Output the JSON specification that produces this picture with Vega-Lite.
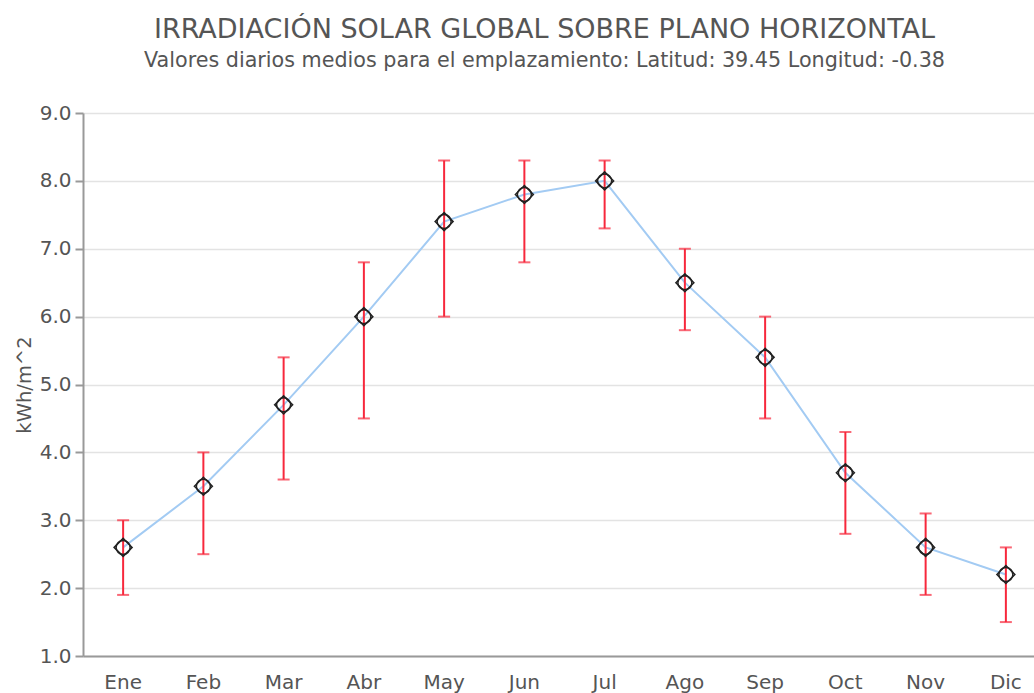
{
  "$schema": "https://vega.github.io/schema/vega-lite/v6.json",
  "autosize": "none",
  "padding": {"left": 83, "top": 113, "right": 0, "bottom": 37},
  "width": 963,
  "height": 543,
  "background": "white",
  "title": {
    "text": "IRRADIACIÓN SOLAR GLOBAL SOBRE PLANO HORIZONTAL",
    "subtitle": "Valores diarios medios para el emplazamiento: Latitud: 39.45 Longitud: -0.38",
    "anchor": "middle",
    "dx": -20,
    "offset": 31,
    "font": "DejaVu Sans",
    "fontSize": 27,
    "fontWeight": "normal",
    "color": "#555555",
    "subtitleFont": "DejaVu Sans",
    "subtitleFontSize": 20.7,
    "subtitleColor": "#555555",
    "subtitlePadding": 7
  },
  "config": {
    "view": {"stroke": null},
    "axis": {"labelFont": "DejaVu Sans", "titleFont": "DejaVu Sans"}
  },
  "data": {
    "values": [
      {"mes": "Ene", "valor": 2.6, "min": 1.9, "max": 3.0},
      {"mes": "Feb", "valor": 3.5, "min": 2.5, "max": 4.0},
      {"mes": "Mar", "valor": 4.7, "min": 3.6, "max": 5.4},
      {"mes": "Abr", "valor": 6.0, "min": 4.5, "max": 6.8},
      {"mes": "May", "valor": 7.4, "min": 6.0, "max": 8.3},
      {"mes": "Jun", "valor": 7.8, "min": 6.8, "max": 8.3},
      {"mes": "Jul", "valor": 8.0, "min": 7.3, "max": 8.3},
      {"mes": "Ago", "valor": 6.5, "min": 5.8, "max": 7.0},
      {"mes": "Sep", "valor": 5.4, "min": 4.5, "max": 6.0},
      {"mes": "Oct", "valor": 3.7, "min": 2.8, "max": 4.3},
      {"mes": "Nov", "valor": 2.6, "min": 1.9, "max": 3.1},
      {"mes": "Dic", "valor": 2.2, "min": 1.5, "max": 2.6}
    ]
  },
  "encoding": {
    "x": {
      "field": "mes",
      "type": "nominal",
      "sort": null,
      "scale": {"type": "band", "paddingInner": 0, "paddingOuter": 0},
      "axis": {
        "title": null,
        "labelAngle": 0,
        "ticks": false,
        "labelPadding": 16,
        "labelFontSize": 20,
        "labelColor": "#555555",
        "domainColor": "#999999",
        "domainWidth": 2,
        "grid": false
      }
    }
  },
  "layer": [
    {
      "mark": {"type": "line", "color": "#a3cbf3", "strokeWidth": 2},
      "encoding": {
        "y": {
          "field": "valor",
          "type": "quantitative",
          "scale": {"domain": [1, 9], "nice": false, "zero": false},
          "axis": {
            "title": "kWh/m^2",
            "titleFontSize": 19.5,
            "titleFontWeight": "normal",
            "titleColor": "#555555",
            "titlePadding": 5,
            "values": [1, 1.5, 2, 2.5, 3, 3.5, 4, 4.5, 5, 5.5, 6, 6.5, 7, 7.5, 8, 8.5, 9],
            "labelExpr": "datum.value % 1 === 0 ? format(datum.value, '.1f') : ''",
            "labelFontSize": 20,
            "labelColor": "#555555",
            "labelPadding": 4,
            "tickSize": {"condition": {"test": "datum.value % 1 !== 0", "value": 4}, "value": 8},
            "tickColor": "#999999",
            "tickWidth": 2,
            "domainColor": "#999999",
            "domainWidth": 2,
            "grid": true,
            "gridColor": "#e3e3e3",
            "gridWidth": 1.5,
            "gridOpacity": {"condition": {"test": "datum.value % 1 !== 0", "value": 0}, "value": 1}
          }
        }
      }
    },
    {
      "mark": {"type": "rule", "color": "#f7283c", "strokeWidth": 2},
      "encoding": {
        "y": {"field": "min", "type": "quantitative"},
        "y2": {"field": "max"}
      }
    },
    {
      "mark": {"type": "tick", "color": "#f7283c", "thickness": 2, "size": 12},
      "encoding": {"y": {"field": "min", "type": "quantitative"}}
    },
    {
      "mark": {"type": "tick", "color": "#f7283c", "thickness": 2, "size": 12},
      "encoding": {"y": {"field": "max", "type": "quantitative"}}
    },
    {
      "mark": {"type": "point", "shape": "diamond", "size": 324, "filled": false, "stroke": "#222222", "strokeWidth": 1.5, "opacity": 1},
      "encoding": {"y": {"field": "valor", "type": "quantitative"}}
    },
    {
      "mark": {"type": "point", "shape": "circle", "size": 196, "filled": false, "stroke": "#222222", "strokeWidth": 1.5, "opacity": 1},
      "encoding": {"y": {"field": "valor", "type": "quantitative"}}
    }
  ]
}
